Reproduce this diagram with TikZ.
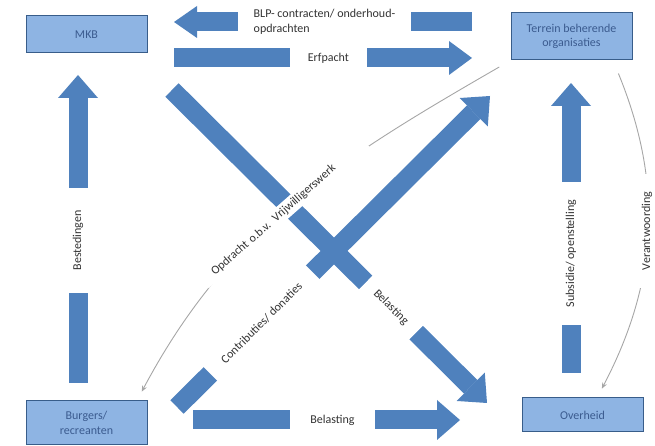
\documentclass[tikz,border=0pt]{standalone}
\usepackage{fontspec}
\setmainfont{Carlito}
\usetikzlibrary{arrows.meta}
\definecolor{arrowblue}{HTML}{4F81BD}
\definecolor{boxfill}{HTML}{8EB4E3}
\definecolor{boxline}{HTML}{385D8A}
\definecolor{boxtext}{HTML}{3B5B8F}
\definecolor{flowgray}{HTML}{A6A6A6}
\definecolor{labeltext}{HTML}{333333}

\tikzset{
  party/.style={draw=boxline, fill=boxfill, text=boxtext, line width=1pt,
    minimum width=121pt, align=center, inner sep=2pt},
  blockarrow/.style={draw=arrowblue, line width=19pt,
    -{Triangle[length=23pt, width=#1, line width=0pt]}},
  blockarrow/.default=40pt,
  flowlabel/.style={fill=white, text=labeltext, minimum width=#1,
    minimum height=28pt, inner xsep=0pt},
  flowline/.style={draw=flowgray, line width=0.9pt,
    -{Stealth[length=6pt, width=5pt]}}
}

\begin{document}
\begin{tikzpicture}[x=1pt, y=1pt, font=\fontsize{12}{14.5}\selectfont]
\useasboundingbox (0,0) rectangle (655,446);

% Draw the four parties
\node[party, minimum height=37pt] (mkb) at (86.5,411.5) {MKB};
\node[party, minimum height=47pt] (terrein) at (571.5,409.5) {Terrein beherende\\organisaties};
\node[party, minimum height=44pt] (burgers) at (86.5,23) {Burgers/\\recreanten};
\node[party, minimum height=34pt] (overheid) at (582.5,31) {Overheid};

% End points of the block arrows
\coordinate (blp-start) at (472,424);
\coordinate (blp-end) at (174,424);
\coordinate (erf-start) at (174,388);
\coordinate (erf-end) at (472,388);
\coordinate (best-start) at (78,63);
\coordinate (best-end) at (78,371);
\coordinate (sub-start) at (571,73);
\coordinate (sub-end) at (571,363);
\coordinate (bel-start) at (193,26);
\coordinate (bel-end) at (460,26);
\coordinate (tax-start) at (172,356);
\coordinate (tax-end) at (487,43);
\coordinate (con-start) at (177,39);
\coordinate (con-end) at (490,350);

% Draw the block arrows
\draw[blockarrow=32pt] (blp-start) -- (blp-end)
  node[flowlabel=173pt, pos=0.495, align=left] {BLP- contracten/ onderhoud-\\opdrachten};
\draw[blockarrow=34pt] (erf-start) -- (erf-end)
  node[flowlabel=77pt, pos=0.518] {Erfpacht};
\draw[blockarrow] (best-start) -- (best-end)
  node[flowlabel=105pt, pos=0.463, sloped] {Bestedingen};
\draw[blockarrow] (sub-start) -- (sub-end)
  node[flowlabel=143pt, pos=0.412, sloped] {Subsidie/ openstelling};
\draw[blockarrow] (bel-start) -- (bel-end)
  node[flowlabel=85pt, pos=0.522] {Belasting};
\draw[blockarrow] (tax-start) -- (tax-end)
  node[flowlabel=71pt, pos=0.695, sloped] {Belasting};
\draw[blockarrow] (con-start) -- (con-end)
  node[flowlabel=144pt, pos=0.27, sloped] {Contributies/ donaties};

% Draw the thin flows
\draw[flowline, shorten <=13pt, shorten >=10pt] (terrein.south west) to[out=210, in=62]
  node[pos=0.53, sloped, fill=white, text=labeltext, text width=188pt, align=left,
    inner xsep=13pt, inner ysep=3pt] {Opdracht o.b.v. Vrijwilligerswerk} (burgers.24);
\draw[flowline, shorten <=14pt, shorten >=10pt] (terrein.-30) to[bend left=25]
  node[rotate=90, fill=white, text=labeltext, inner xsep=18pt, inner ysep=2pt] {Verantwoording} (overheid.50);

\end{tikzpicture}
\end{document}
